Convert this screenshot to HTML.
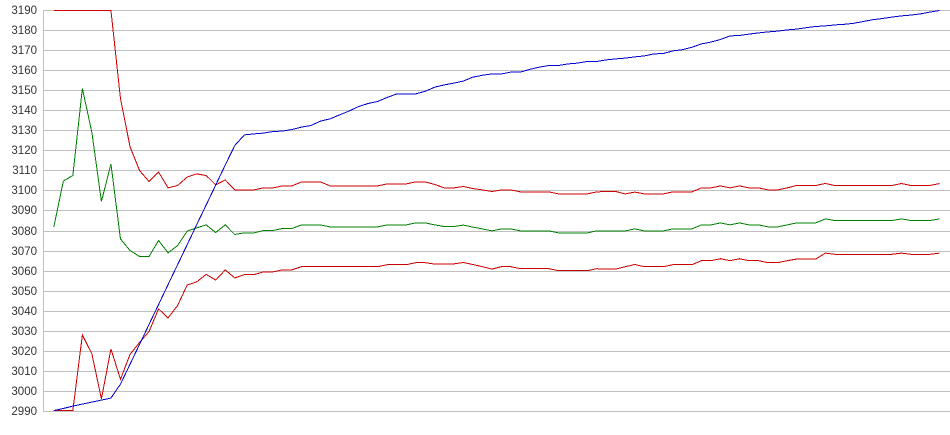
<!DOCTYPE html>
<html>
<head>
<meta charset="utf-8">
<style>
  html, body { margin: 0; padding: 0; background: #ffffff; }
  svg { display: block; }
  text { font-family: "Liberation Sans", Arial, sans-serif; font-size: 11.5px; fill: #333333; }
</style>
</head>
<body>
<svg width="950" height="435" viewBox="0 0 950 435" xmlns="http://www.w3.org/2000/svg">
  <rect x="0" y="0" width="950" height="435" fill="#ffffff"/>
  <!-- gridlines -->
  <g fill="#c0c0c0" shape-rendering="crispEdges">
    <rect x="43" y="10" width="907" height="1"/>
    <rect x="43" y="30" width="907" height="1"/>
    <rect x="43" y="50" width="907" height="1"/>
    <rect x="43" y="70" width="907" height="1"/>
    <rect x="43" y="90" width="907" height="1"/>
    <rect x="43" y="110" width="907" height="1"/>
    <rect x="43" y="130" width="907" height="1"/>
    <rect x="43" y="150" width="907" height="1"/>
    <rect x="43" y="170" width="907" height="1"/>
    <rect x="43" y="190" width="907" height="1"/>
    <rect x="43" y="210" width="907" height="1"/>
    <rect x="43" y="231" width="907" height="1"/>
    <rect x="43" y="251" width="907" height="1"/>
    <rect x="43" y="271" width="907" height="1"/>
    <rect x="43" y="291" width="907" height="1"/>
    <rect x="43" y="311" width="907" height="1"/>
    <rect x="43" y="331" width="907" height="1"/>
    <rect x="43" y="351" width="907" height="1"/>
    <rect x="43" y="371" width="907" height="1"/>
    <rect x="43" y="391" width="907" height="1"/>
    <rect x="43" y="411" width="907" height="1"/>
    <rect x="43" y="10" width="1" height="402"/>
  </g>
  <!-- labels -->
  <g text-anchor="end">
    <text x="37" y="14">3190</text>
    <text x="37" y="34">3180</text>
    <text x="37" y="54">3170</text>
    <text x="37" y="74">3160</text>
    <text x="37" y="94">3150</text>
    <text x="37" y="114">3140</text>
    <text x="37" y="134">3130</text>
    <text x="37" y="154">3120</text>
    <text x="37" y="174">3110</text>
    <text x="37" y="194">3100</text>
    <text x="37" y="214">3090</text>
    <text x="37" y="235">3080</text>
    <text x="37" y="255">3070</text>
    <text x="37" y="275">3060</text>
    <text x="37" y="295">3050</text>
    <text x="37" y="315">3040</text>
    <text x="37" y="335">3030</text>
    <text x="37" y="355">3020</text>
    <text x="37" y="375">3010</text>
    <text x="37" y="395">3000</text>
    <text x="37" y="415">2990</text>
  </g>
  <!-- indexed series: x = 53.8 + 9.524*i ; y = 6390.5 - 2*v -->
  <g transform="matrix(9.524 0 0 -2 53.8 6390.5)" fill="none" stroke-linejoin="miter" shape-rendering="crispEdges">
    <!-- green middle -->
    <polyline vector-effect="non-scaling-stroke" stroke="#008000" stroke-width="1" points="0,3081.7 1,3104.7 2,3107.5 3,3151 4,3129 5,3094.5 6,3113.3 7,3075.8 8,3070 9,3067 10,3067 11,3075 12,3068.8 13,3072.5 14,3079.7 15,3081.3 16,3082.8 17,3079 18,3082.8 19,3078 20,3078.8 21,3078.8 22,3080 23,3080 24,3081 25,3081 26,3082.8 27,3082.8 28,3082.8 29,3081.8 30,3081.8 31,3081.8 32,3081.8 33,3081.8 34,3081.8 35,3082.8 36,3082.8 37,3082.8 38,3083.8 39,3083.8 40,3082.8 41,3082 42,3082 43,3082.7 44,3081.7 45,3080.8 46,3079.8 47,3080.8 48,3080.8 49,3079.8 50,3079.8 51,3079.8 52,3079.8 53,3078.8 54,3078.8 55,3078.8 56,3078.8 57,3079.8 58,3079.8 59,3079.8 60,3079.8 61,3080.8 62,3079.8 63,3079.8 64,3079.8 65,3080.8 66,3080.8 67,3080.8 68,3082.8 69,3082.8 70,3083.8 71,3082.8 72,3083.8 73,3082.8 74,3082.8 75,3081.8 76,3081.8 77,3082.8 78,3083.8 79,3083.8 80,3083.8 81,3085.8 82,3085 83,3085 84,3085 85,3085 86,3085 87,3085 88,3085 89,3085.8 90,3085 91,3085 92,3085 93,3085.8"/>
    <!-- red upper -->
    <polyline vector-effect="non-scaling-stroke" stroke="#cc0000" stroke-width="1" points="0,3190 1,3190 2,3190 3,3190 4,3190 5,3190 6,3190 7,3146 8,3122 9,3110 10,3104.5 11,3109.2 12,3101.3 13,3102.5 14,3106.7 15,3108.3 16,3107.5 17,3102.8 18,3105.3 19,3100.3 20,3100.3 21,3100.3 22,3101.3 23,3101.3 24,3102.3 25,3102.3 26,3104.3 27,3104.3 28,3104.3 29,3102.3 30,3102.3 31,3102.3 32,3102.3 33,3102.3 34,3102.3 35,3103.3 36,3103.3 37,3103.3 38,3104.3 39,3104.3 40,3103 41,3101.3 42,3101.3 43,3102 44,3101 45,3100.3 46,3099.5 47,3100.3 48,3100.3 49,3099.3 50,3099.3 51,3099.3 52,3099.3 53,3098.3 54,3098.3 55,3098.3 56,3098.3 57,3099.3 58,3099.5 59,3099.5 60,3098.3 61,3099.2 62,3098.3 63,3098.3 64,3098.3 65,3099.3 66,3099.3 67,3099.3 68,3101.3 69,3101.3 70,3102.3 71,3101.3 72,3102.3 73,3101.3 74,3101.3 75,3100.3 76,3100.3 77,3101.3 78,3102.5 79,3102.5 80,3102.5 81,3103.5 82,3102.5 83,3102.5 84,3102.5 85,3102.5 86,3102.5 87,3102.5 88,3102.5 89,3103.5 90,3102.5 91,3102.5 92,3102.5 93,3103.5"/>
    <!-- red lower -->
    <polyline vector-effect="non-scaling-stroke" stroke="#cc0000" stroke-width="1" points="0,2990 1,2990 2,2990 3,3027.8 4,3018.3 5,2995.8 6,3020.8 7,3005.6 8,3018 9,3024 10,3029.5 11,3040.8 12,3036.3 13,3042.5 14,3052.7 15,3054.3 16,3058.1 17,3055.2 18,3060.3 19,3056.3 20,3057.9 21,3057.9 22,3059.3 23,3059.3 24,3060.3 25,3060.3 26,3061.9 27,3061.9 28,3061.9 29,3061.9 30,3061.9 31,3061.9 32,3061.9 33,3061.9 34,3061.9 35,3062.9 36,3062.9 37,3062.9 38,3063.9 39,3063.9 40,3063.2 41,3063.3 42,3063.3 43,3064 44,3063 45,3061.9 46,3060.7 47,3061.9 48,3061.9 49,3060.9 50,3060.9 51,3060.9 52,3060.9 53,3059.9 54,3059.9 55,3059.9 56,3059.9 57,3060.9 58,3060.7 59,3060.7 60,3061.9 61,3063 62,3061.9 63,3061.9 64,3061.9 65,3062.9 66,3062.9 67,3062.9 68,3064.9 69,3064.9 70,3065.9 71,3064.9 72,3065.9 73,3064.9 74,3064.9 75,3063.9 76,3063.9 77,3064.9 78,3065.7 79,3065.7 80,3065.7 81,3068.7 82,3068.1 83,3068.1 84,3068.1 85,3068.1 86,3068.1 87,3068.1 88,3068.1 89,3068.7 90,3068.1 91,3068.1 92,3068.1 93,3068.7"/>
  </g>
  <!-- blue: x in pixels, y = 6390.5 - 2*v -->
  <g transform="matrix(1 0 0 -2 0.5 6390.5)" fill="none" shape-rendering="crispEdges">
    <polyline vector-effect="non-scaling-stroke" stroke="#0000cc" stroke-width="1" points="53.3,2990 62.8,2991 72.3,2992.2 81.9,2993.2 91.4,2994.2 100.9,2995.2 110.4,2996.2 120,3003.2 129.5,3013.1 139,3023 148.5,3033 158.1,3043 167.6,3053 177.1,3062.9 186.6,3072.8 196.2,3082.9 205.7,3092.8 215.2,3102.7 224.7,3112.7 234.3,3122.5 243.8,3127.8 253.3,3128.3 262.8,3128.7 272.4,3129.5 281.9,3129.7 291.4,3130.5 300.9,3131.7 310.4,3132.5 320,3134.7 329.5,3135.8 339,3137.8 348.5,3139.7 358.1,3142 367.6,3143.5 377.1,3144.5 386.6,3146.5 396.2,3148.3 405.7,3148.3 415.2,3148.3 424.7,3149.6 434.3,3151.7 443.8,3152.8 453.3,3153.7 462.8,3154.7 472.4,3156.7 481.9,3157.6 491.4,3158.3 500.9,3158.3 510.4,3159.2 520,3159.2 529.5,3160.6 539,3161.7 548.5,3162.5 558.1,3162.5 567.6,3163.3 577.1,3163.7 586.6,3164.5 596.2,3164.5 605.7,3165.3 615.2,3165.8 624.7,3166.2 634.3,3166.8 643.8,3167.3 653.3,3168.3 662.8,3168.5 672.4,3169.8 681.9,3170.4 691.4,3171.6 700.9,3173.3 710.4,3174.2 720,3175.5 729.5,3177.3 739,3177.5 748.5,3178.2 758.1,3178.8 767.6,3179.3 777.1,3179.7 786.6,3180.3 796.2,3180.7 805.7,3181.4 815.2,3182 824.7,3182.3 834.3,3182.8 843.8,3183.1 853.3,3183.6 862.8,3184.5 872.4,3185.4 881.9,3186 891.4,3186.7 900.9,3187.3 910.4,3187.7 920,3188.3 929.5,3189.2 939,3190"/>
  </g>
</svg>
</body>
</html>
